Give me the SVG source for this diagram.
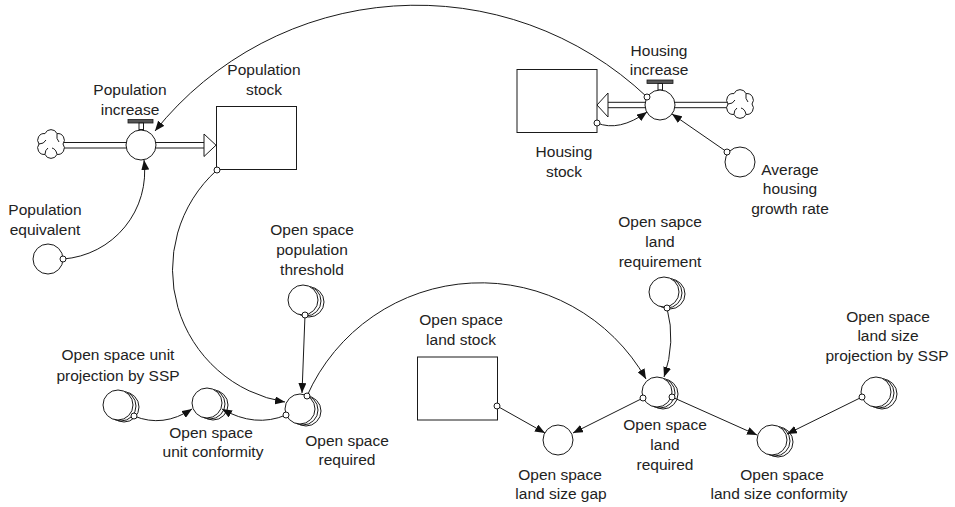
<svg xmlns="http://www.w3.org/2000/svg" width="955" height="507" viewBox="0 0 955 507">
<style>
.t{font-family:"Liberation Sans",Arial,sans-serif;font-size:15.5px;fill:#222;text-anchor:middle}
.v{fill:#fff;stroke:#1a1a1a;stroke-width:1}
.s{fill:#fff;stroke:#1a1a1a;stroke-width:1}
.c{fill:none;stroke:#1a1a1a;stroke-width:1;marker-end:url(#arr)}
.o{fill:#fff;stroke:#1a1a1a;stroke-width:1}
.p{fill:none;stroke:#1a1a1a;stroke-width:1}
.bar{fill:#555;stroke:#1a1a1a;stroke-width:0.8}
</style>
<defs>
<marker id="arr" markerUnits="userSpaceOnUse" markerWidth="10" markerHeight="8" refX="10" refY="4" orient="auto">
<path d="M0,0 L10,4 L0,8 Z" fill="#111"/>
</marker>
<g id="cloudShape">
<path d="M12,0 A6.5,6.5 0 0 1 6,10.39 A6.5,6.5 0 0 1 -6,10.39 A6.5,6.5 0 0 1 -12,0 A6.5,6.5 0 0 1 -6,-10.39 A6.5,6.5 0 0 1 6,-10.39 A6.5,6.5 0 0 1 12,0 Z" fill="#fff" stroke="#1a1a1a" stroke-width="1"/>
<path d="M6,10.39 Q5,5 1,4 M-12,0 Q-7,0 -5,-4 M6,-10.39 Q5,-5 8,-2 M-6,10.39 Q-6,6 -3,4" fill="none" stroke="#1a1a1a" stroke-width="1"/>
</g>
</defs>
<rect width="955" height="507" fill="#fff"/>

<g id="flows">
<line class="p" x1="64" y1="142.5" x2="204" y2="142.5"/>
<line class="p" x1="64" y1="148" x2="204" y2="148"/>
<polygon points="204,134 216,145.2 204,156.5" fill="#fff" stroke="#1a1a1a" stroke-width="1"/>
<line class="p" x1="727" y1="102.3" x2="608" y2="102.3"/>
<line class="p" x1="727" y1="107.7" x2="608" y2="107.7"/>
<polygon points="608,93 597,105 608,117" fill="#fff" stroke="#1a1a1a" stroke-width="1"/>
</g>

<g id="cloud-population"><use href="#cloudShape" transform="translate(51,144)"/></g>
<g id="cloud-housing"><use href="#cloudShape" transform="translate(740,104)"/></g>

<g id="population-increase">
<rect class="bar" x="128" y="119.5" width="25" height="3.5"/>
<rect class="s" x="139" y="123" width="4.5" height="6.5"/>
<circle class="v" cx="141" cy="145" r="15"/>
<text class="t" x="130" y="95">Population</text>
<text class="t" x="130" y="115">increase</text>
</g>

<g id="population-stock">
<rect class="s" x="216.5" y="106.5" width="80" height="63"/>
<text class="t" x="264" y="75">Population</text>
<text class="t" x="264" y="95">stock</text>
</g>

<g id="housing-stock">
<rect class="s" x="517" y="69.5" width="80" height="63"/>
<text class="t" x="564" y="157">Housing</text>
<text class="t" x="564" y="177">stock</text>
</g>

<g id="housing-increase">
<rect class="bar" x="647" y="80" width="26" height="3.5"/>
<rect class="s" x="658" y="83.5" width="4.5" height="6.5"/>
<circle class="v" cx="660" cy="105" r="15"/>
<text class="t" x="659" y="56">Housing</text>
<text class="t" x="659" y="75">increase</text>
</g>

<g id="average-housing-growth-rate">
<circle class="v" cx="740" cy="162" r="15"/>
<text class="t" x="790" y="175">Average</text>
<text class="t" x="790" y="194">housing</text>
<text class="t" x="790" y="214">growth rate</text>
</g>

<g id="population-equivalent">
<circle class="v" cx="48" cy="259" r="15"/>
<text class="t" x="45" y="215">Population</text>
<text class="t" x="45" y="235">equivalent</text>
</g>

<g id="open-space-population-threshold">
<circle class="v" cx="309" cy="302" r="15"/>
<circle class="v" cx="306" cy="301" r="15"/>
<circle class="v" cx="303" cy="300" r="15"/>
<text class="t" x="312" y="235">Open space</text>
<text class="t" x="312" y="255">population</text>
<text class="t" x="312" y="275">threshold</text>
</g>

<g id="open-space-unit-projection-by-ssp">
<circle class="v" cx="124" cy="407" r="15"/>
<circle class="v" cx="121" cy="406" r="15"/>
<circle class="v" cx="118" cy="405" r="15"/>
<text class="t" x="118" y="360">Open space unit</text>
<text class="t" x="118" y="381">projection by SSP</text>
</g>

<g id="open-space-unit-conformity">
<circle class="v" cx="213" cy="405" r="15"/>
<circle class="v" cx="210" cy="404" r="15"/>
<circle class="v" cx="207" cy="403" r="15"/>
<text class="t" x="211" y="438">Open space</text>
<text class="t" x="213" y="457">unit conformity</text>
</g>

<g id="open-space-required">
<circle class="v" cx="306" cy="411" r="15"/>
<circle class="v" cx="303" cy="410" r="15"/>
<circle class="v" cx="300" cy="409" r="15"/>
<text class="t" x="347" y="446">Open space</text>
<text class="t" x="347" y="465">required</text>
</g>

<g id="open-space-land-stock">
<rect class="s" x="417.5" y="357" width="80" height="63"/>
<text class="t" x="461" y="325">Open space</text>
<text class="t" x="461" y="345">land stock</text>
</g>

<g id="open-sapce-land-requirement">
<circle class="v" cx="670" cy="294" r="15"/>
<circle class="v" cx="667" cy="293" r="15"/>
<circle class="v" cx="664" cy="292" r="15"/>
<text class="t" x="660" y="227">Open sapce</text>
<text class="t" x="660" y="247">land</text>
<text class="t" x="660" y="267">requirement</text>
</g>

<g id="open-space-land-required">
<circle class="v" cx="663" cy="394" r="15"/>
<circle class="v" cx="660" cy="393" r="15"/>
<circle class="v" cx="657" cy="392" r="15"/>
<text class="t" x="665" y="430">Open space</text>
<text class="t" x="665" y="450">land</text>
<text class="t" x="665" y="470">required</text>
</g>

<g id="open-space-land-size-gap">
<circle class="v" cx="558" cy="440" r="15"/>
<text class="t" x="560" y="480">Open space</text>
<text class="t" x="561" y="499">land size gap</text>
</g>

<g id="open-space-land-size-conformity">
<circle class="v" cx="778" cy="442" r="15"/>
<circle class="v" cx="775" cy="441" r="15"/>
<circle class="v" cx="772" cy="440" r="15"/>
<text class="t" x="782" y="480">Open space</text>
<text class="t" x="779" y="499">land size conformity</text>
</g>

<g id="open-space-land-size-projection-by-ssp">
<circle class="v" cx="882" cy="394" r="15"/>
<circle class="v" cx="879" cy="393" r="15"/>
<circle class="v" cx="876" cy="392" r="15"/>
<text class="t" x="888" y="322">Open space</text>
<text class="t" x="888" y="341">land size</text>
<text class="t" x="887" y="361">projection by SSP</text>
</g>

<g id="connectors">
<path class="c" d="M647,97 A335,335 0 0 0 155,131"/>
<path class="c" d="M63,259 A88,88 0 0 0 144,160"/>
<path class="c" d="M597,123 Q619,132 647,112"/>
<path class="c" d="M727,152 L672,114"/>
<path class="c" d="M217,170 A134,134 0 0 0 285,402"/>
<path class="c" d="M305,315 L302,393"/>
<path class="c" d="M134,416 Q163,428 192,409"/>
<path class="c" d="M286,415 Q255,428 222,409"/>
<path class="c" d="M307,396 A190,190 0 0 1 646,379"/>
<path class="c" d="M667,308 Q676,342 664,377"/>
<path class="c" d="M497,406 L545,433"/>
<path class="c" d="M643,398 L573,433"/>
<path class="c" d="M672,397 L757,435"/>
<path class="c" d="M862,397 L787,434"/>
<circle class="o" cx="647" cy="97" r="3"/>
<circle class="o" cx="63" cy="259" r="3"/>
<circle class="o" cx="597" cy="123" r="3"/>
<circle class="o" cx="727" cy="152" r="3"/>
<circle class="o" cx="217" cy="170" r="3"/>
<circle class="o" cx="305" cy="315" r="3"/>
<circle class="o" cx="134" cy="416" r="3"/>
<circle class="o" cx="286" cy="415" r="3"/>
<circle class="o" cx="307" cy="396" r="3"/>
<circle class="o" cx="667" cy="308" r="3"/>
<circle class="o" cx="497" cy="406" r="3"/>
<circle class="o" cx="643" cy="398" r="3"/>
<circle class="o" cx="672" cy="397" r="3"/>
<circle class="o" cx="862" cy="397" r="3"/>
</g>
</svg>
